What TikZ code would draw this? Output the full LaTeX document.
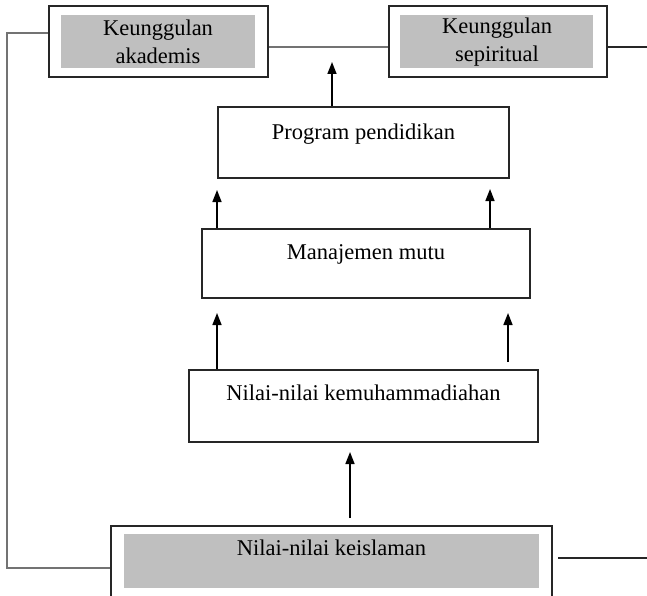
\documentclass[tikz,border=0pt]{standalone}
\usepackage{fontspec}
\setmainfont{Liberation Serif}
\usetikzlibrary{positioning,arrows.meta,calc}
\tikzset{
  kotak/.style = {draw=black!85, line width=1.3pt, inner sep=0pt},
  kotak_tebal/.style = {kotak, line width=1.8pt},
  abu/.style = {fill=black!25, draw=none, inner sep=0pt},
  teks/.style = {align=center, inner sep=0pt, font=\fontsize{22.5}{28}\selectfont},
  garis/.style = {draw=black!55, line width=2.2pt},
  garis_hitam/.style = {draw=black!85, line width=1.6pt},
  panah/.style = {draw=black, line width=1.5pt, -{Triangle[width=9pt,length=12pt]}}
}
\begin{document}
\begin{tikzpicture}[x=1pt,y=-1pt]
\useasboundingbox (0,0) rectangle (647,596);
% kotak atas
\node [kotak_tebal, minimum width=219, minimum height=71] (ka) at (158.5,41.5) {};
\node [abu, minimum width=194, minimum height=53] (ka_abu) at (158,41.5) {};
\node [teks] (ka_t) at (158,42) {Keunggulan\\akademis};
\node [kotak_tebal, minimum width=218, minimum height=71] (ks) at (498,41.5) {};
\node [abu, minimum width=193, minimum height=53] (ks_abu) at (496.5,41.5) {};
\node [teks] (ks_t) at (497,42) {Keunggulan\\sepiritual};
% kotak tengah
\node [kotak, minimum width=291, minimum height=71] (pp) at (363.5,142.5) {};
\node [teks, below=17pt of pp.north] (pp_t) {Program pendidikan};
\node [kotak, minimum width=328, minimum height=69] (mm) at (366,263.5) {};
\node [teks, below=16pt of mm.north] (mm_t) {Manajemen mutu};
\node [kotak, minimum width=349, minimum height=72] (nk) at (363.5,406) {};
\node [teks, below=15pt of nk.north] (nk_t) {Nilai-nilai kemuhammadiahan};
% kotak bawah
\node [kotak_tebal, minimum width=441, minimum height=72] (ni) at (331.5,562) {};
\node [abu, minimum width=415, minimum height=54] (ni_abu) at (331.5,561) {};
\node [teks, below=15pt of ni.north] (ni_t) {Nilai-nilai keislaman};

% garis penghubung
\coordinate (kiri_atas) at (7,33);
\coordinate (kiri_bawah) at (7,568);
\draw [garis] (ka.west |- kiri_atas) -- (kiri_atas) -- (kiri_bawah) -- (ni.west |- kiri_bawah);
\draw [garis] (ka.east |- 0,47) -- (ks.west |- 0,47);
\coordinate (kanan_atas) at (647,47);
\draw [garis_hitam] (ks.east |- kanan_atas) -- (kanan_atas);
\coordinate (kanan_bawah_a) at (558,558);
\coordinate (kanan_bawah_b) at (647,558);
\draw [garis_hitam] (kanan_bawah_a) -- (kanan_bawah_b);

% panah
\coordinate (p1) at (332,62);
\coordinate (p2) at (217,190);
\coordinate (p3) at (490,189);
\coordinate (p4) at (217,313);
\coordinate (p5) at (508,313);
\coordinate (p5a) at (508,362);
\coordinate (p6) at (350,452);
\coordinate (p6a) at (350,518);
\draw [panah] (pp.north -| p1) -- (p1);
\draw [panah] (mm.north -| p2) -- (p2);
\draw [panah] (mm.north -| p3) -- (p3);
\draw [panah] (nk.north -| p4) -- (p4);
\draw [panah] (p5a) -- (p5);
\draw [panah] (p6a) -- (p6);
\end{tikzpicture}
\end{document}
